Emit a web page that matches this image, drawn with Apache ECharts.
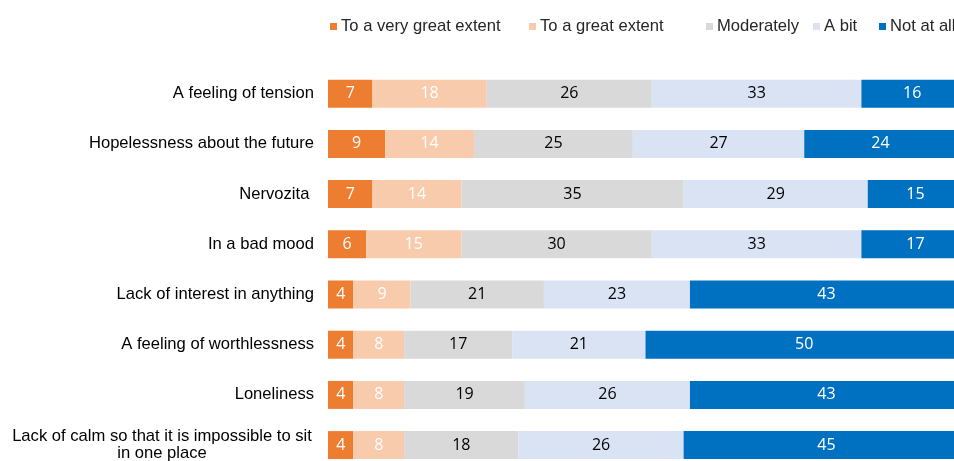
<!DOCTYPE html>
<html>
<head>
<meta charset="utf-8">
<script src="https://cdn.jsdelivr.net/npm/echarts@6/dist/echarts.min.js"></script>
<style>html,body{margin:0;padding:0;background:#fff}#c{width:954px;height:461px}</style>
</head>
<body>
<div id="c"></div>
<script>
const categories = [
  "A feeling of tension",
  "Hopelessness about the future",
  "Nervozita ",
  "In a bad mood",
  "Lack of interest in anything",
  "A feeling of worthlessness",
  "Loneliness",
  "Lack of calm so that it is impossible to sit\nin one place"
];
const seriesNames = ["To a very great extent", "To a great extent", "Moderately", "A bit", "Not at all"];
const veryGreat = [7, 9, 7, 6, 4, 4, 4, 4];
const great = [18, 14, 14, 15, 9, 8, 8, 8];
const moderately = [26, 25, 35, 30, 21, 17, 19, 18];
const aBit = [33, 27, 29, 33, 23, 21, 26, 26];
const notAtAll = [16, 24, 15, 17, 43, 50, 43, 45];

const values = [veryGreat, great, moderately, aBit, notAtAll];
const colors = ["#ED7D31", "#F8CBAD", "#D9D9D9", "#DAE3F3", "#0070C0"];
const labelColors = ["#ffffff", "#ffffff", "#000000", "#000000", "#ffffff"];
const legendLeft = [325, 524, 701, 808, 874];

const chart = echarts.init(document.getElementById('c'));
chart.setOption({
  animation: false,
  backgroundColor: '#ffffff',
  legend: seriesNames.map((n, i) => ({
    top: 13,
    left: legendLeft[i],
    itemWidth: 7,
    itemHeight: 7,
    icon: 'rect',
    textStyle: { fontFamily: 'Liberation Sans, Arial', fontSize: 16.6, color: '#262626', padding: [0, 0, 0, -1] },
    data: [n]
  })),
  grid: { left: 328, top: 68.6, width: 635, height: 401.6, containLabel: false, outerBoundsMode: 'none' },
  xAxis: { type: 'value', min: 0, max: 100, show: false },
  yAxis: {
    type: 'category',
    inverse: true,
    data: categories,
    axisLine: { show: false },
    axisTick: { show: false },
    axisLabel: {
      margin: 14,
      fontFamily: 'Liberation Sans, Arial',
      fontSize: 16.6,
      color: '#000000',
      formatter: function (v) {
        if (v.indexOf('\n') >= 0) {
          return v.split('\n').map(s => '{c|' + s + '}').join('\n');
        }
        return v;
      },
      rich: {
        c: { width: 304, align: 'center', fontFamily: 'Liberation Sans, Arial', fontSize: 16.6, color: '#000000', lineHeight: 16.5 }
      }
    }
  },
  series: seriesNames.map((name, i) => ({
    name: name,
    type: 'bar',
    stack: 'total',
    barWidth: 28,
    clip: false,
    itemStyle: { color: colors[i] },
    label: {
      show: true,
      position: 'inside',
      color: labelColors[i],
      fontFamily: 'Open Sans, Noto Sans, sans-serif',
      fontSize: 16
    },
    data: values[i]
  }))
});
</script>
</body>
</html>
